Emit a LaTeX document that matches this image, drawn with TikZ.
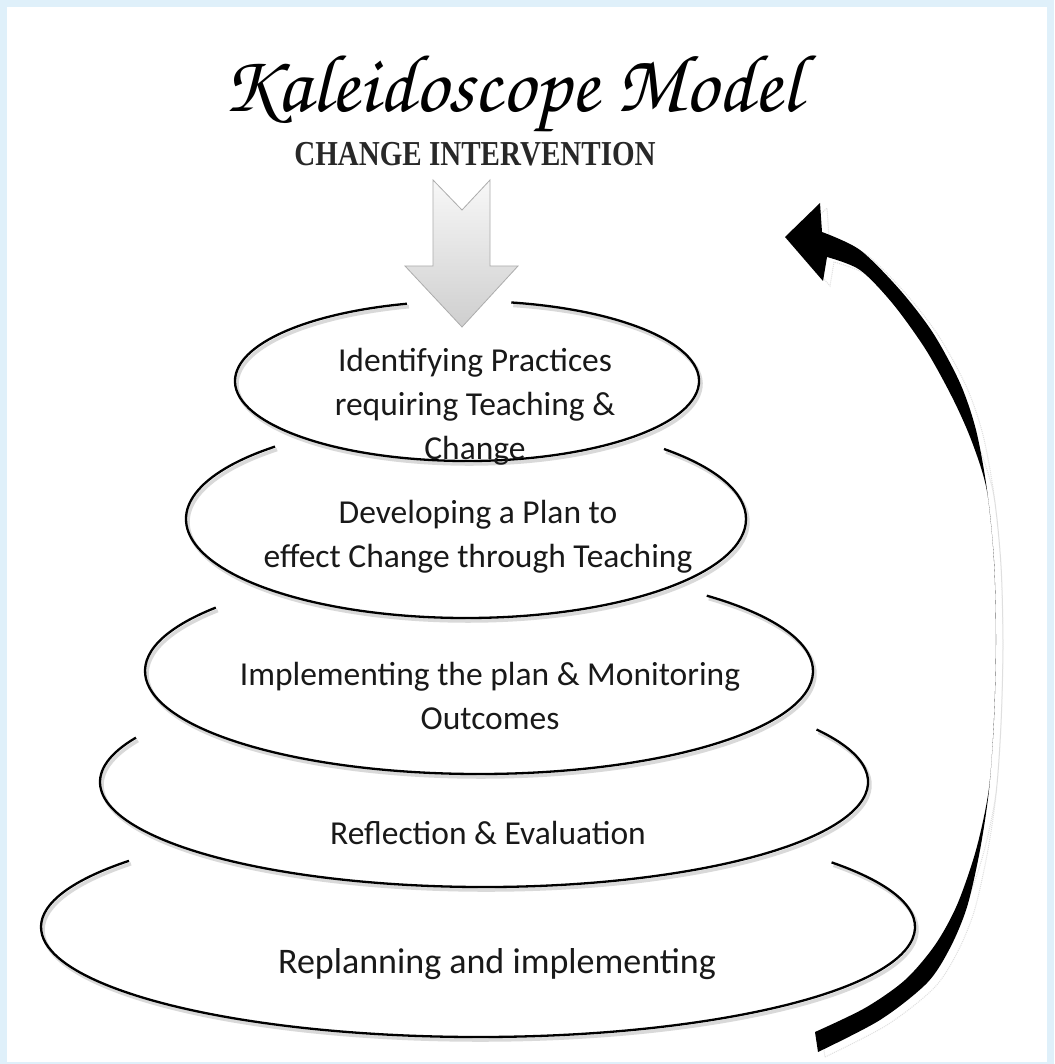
\documentclass[tikz,border=0pt]{standalone}
\usepackage[T1]{fontenc}
\usepackage{fontspec}
\setmainfont{Carlito}
\newfontfamily\headfont{Liberation Serif}
\definecolor{frameblue}{RGB}{223,240,250}
\definecolor{inkgray}{RGB}{40,40,40}

% one tier of the stack: centre, radii, visible arc from #5 to #6
\newcommand\tier[6]{%
  \fill[white] (#1,#2) ellipse[x radius=#3, y radius=#4];
  \draw[tiershadow] (#1+2,#2+3) ++(#5:#3 and #4)
        arc[start angle=#5, end angle=#6, x radius=#3, y radius=#4];
  \draw[tierline] (#1,#2) ++(#5:#3 and #4)
        arc[start angle=#5, end angle=#6, x radius=#3, y radius=#4];
}

\begin{document}
\begin{tikzpicture}[x=1pt,y=-1pt,
  tierline/.style={line width=2.3pt, black},
  tiershadow/.style={line width=3.5pt, gray!30},
  tiertext/.style={font=\fontsize{33.5}{44}\selectfont, align=center, anchor=base, text=black!90},
  arrowshade/.style={draw=gray!25, densely dotted, line width=1pt},
]
\useasboundingbox (0,0) rectangle (1054,1064);
\fill[frameblue] (0,0) rectangle (1054,1064);
\fill[white] (7,7) rectangle (1047,1062);

% title block
\node[font={\usefont{T1}{pzc}{mb}{it}\fontsize{82}{84}\selectfont}, anchor=base] (title) at (512,112) {Kaleidoscope Model};
\node[font={\headfont\bfseries\fontsize{35}{36}\selectfont}, xscale=0.83, anchor=base, text=inkgray] (sub) at (475,166) {CHANGE INTERVENTION};

% stacked tiers, drawn from the bottom up
\tier{478}{927}{437}{110}{-36}{217}
\tier{484}{782}{384}{105}{-30}{205}
\tier{479}{671}{334}{103}{-47}{218}
\tier{466}{519}{280}{99}{-45}{227}
\tier{467}{381}{232}{80}{281}{615}

% downward arrow into the top tier
\draw[gray!65, line width=0.8pt, top color=gray!6, bottom color=gray!38]
  (433,180) -- (462,210) -- (490,180) -- (490,266) -- (518,266) -- (462,327)
  -- (405,266) -- (433,266) -- cycle;

% tier labels (anchored on the baseline of the last line)
\node[tiertext] (t1) at (475,459) {Identifying Practices\\requiring Teaching \&\\Change};
\node[tiertext] (t2) at (478,567) {Developing a Plan to\\effect Change through Teaching};
\node[tiertext] (t3) at (490,729) {Implementing the plan \& Monitoring\\Outcomes};
\node[tiertext] (t4) at (488,844) {Reflection \& Evaluation};
\node[tiertext, font=\fontsize{36}{44}\selectfont] (t5) at (497,973) {Replanning and implementing};

% curved return arrow on the right: thick at both ends, fading to a hairline
\def\returnarrow{
  plot[smooth] coordinates {(818,1052) (880,1020) (927,983) (950,948) (967,907) (980,850)
     (989,790) (994,720) (996,640) (994,560) (987,490) (976,430) (960,383) (933,333)
     (900,290) (860,250) (822,232)}
  -- (820,203) -- (785,237) -- (823,281) -- (827,257) --
  plot[smooth] coordinates {(827,257) (860,270) (893,304) (926,350) (953,399) (972,442)
     (986.7,490) (993.9,560) (995.9,640) (993.9,720) (988.7,790) (976,850) (957,905) (935,945)
     (905,980) (865,1008) (815,1032)}
  -- cycle}
\begin{scope}[shift={(7,5)}]
  \draw[arrowshade] \returnarrow;
\end{scope}
\fill[black] \returnarrow;
\end{tikzpicture}
\end{document}
